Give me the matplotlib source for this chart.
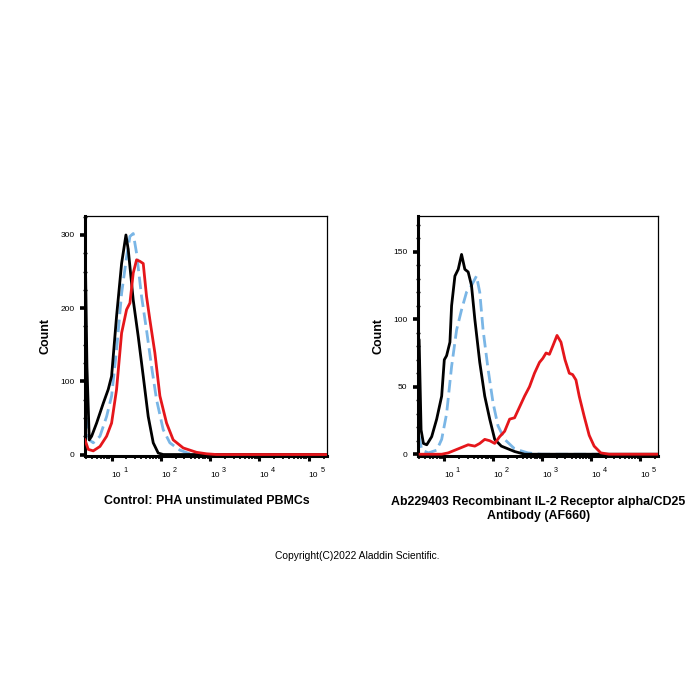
import numpy as np
import matplotlib
matplotlib.use("Agg")
import matplotlib.pyplot as plt
from matplotlib.ticker import FixedLocator, MultipleLocator, NullFormatter

plt.rcParams['font.family'] = ['Liberation Sans', 'DejaVu Sans']

# ---------------- data (log10 fluorescence, counts) ----------------
# Left panel: Control, PHA unstimulated PBMCs
L_black_log = [0.46, 0.50, 0.547, 0.595, 0.696, 0.831, 0.932, 1.0, 1.101, 1.203, 1.291, 1.338,
               1.439, 1.541, 1.642, 1.743, 1.845, 1.946, 2.047, 5.37]
L_black_cnt = [305, 120, 20, 25, 43, 70, 89, 107, 189, 261, 300, 280, 211, 161, 107, 52, 16, 2, 0, 0]

L_blue_log = [0.46, 0.48, 0.547, 0.628, 0.764, 0.899, 1.0, 1.101, 1.203, 1.304, 1.372, 1.439, 1.507,
              1.608, 1.709, 1.811, 1.912, 2.047, 2.182, 2.385, 2.588, 2.858, 5.37]
L_blue_cnt = [52, 50, 20, 16, 25, 52, 80, 143, 220, 270, 298, 302, 275, 216, 170, 120, 75, 34, 16, 6,
              1, 0, 0]

L_red_log = [0.46, 0.527, 0.628, 0.764, 0.899, 1.0, 1.101, 1.203, 1.304, 1.372, 1.439, 1.507, 1.574,
             1.642, 1.709, 1.777, 1.878, 1.980, 2.115, 2.250, 2.453, 2.723, 2.926, 3.128, 5.37]
L_red_cnt = [20, 7, 5, 11, 25, 43, 89, 166, 198, 207, 248, 266, 264, 261, 216, 184, 139, 80, 43, 20,
             9, 3, 1, 0, 0]

# Right panel: Ab229403 IL-2 Receptor alpha/CD25 (AF660)
R_black_log = [0.46, 0.485, 0.525, 0.573, 0.641, 0.742, 0.844, 0.946, 1.0, 1.047, 1.115, 1.149, 1.217,
               1.285, 1.353, 1.420, 1.488, 1.556, 1.624, 1.725, 1.827, 1.929, 2.031, 2.166, 2.302,
               2.437, 2.641, 5.37]
R_black_cnt = [85, 85, 18, 8, 7, 13, 26, 43, 70, 73, 83, 110, 132, 137, 148, 137, 135, 125, 100, 68,
               43, 26, 11, 6, 4, 2, 0, 0]

R_blue_log = [0.46, 0.485, 0.539, 0.675, 0.844, 0.946, 1.047, 1.149, 1.251, 1.353, 1.454, 1.556,
              1.658, 1.725, 1.793, 1.895, 1.997, 2.098, 2.234, 2.437, 2.708, 2.980, 4.2]
R_blue_cnt = [13, 13, 3, 1, 3, 11, 30, 65, 92, 107, 120, 125, 132, 120, 92, 63, 38, 21, 11, 4, 1, 0, 0]

R_red_log = [0.505, 0.946, 1.081, 1.285, 1.488, 1.624, 1.725, 1.827, 1.929, 2.031, 2.132, 2.234,
             2.336, 2.437, 2.539, 2.641, 2.742, 2.844, 2.946, 3.014, 3.081, 3.149, 3.217, 3.305,
             3.386, 3.468, 3.556, 3.624, 3.692, 3.759, 3.861, 3.963, 4.064, 4.200, 4.369, 5.37]
R_red_cnt = [0, 0, 1, 4, 7, 6, 8, 11, 10, 8, 13, 17, 26, 27, 35, 43, 50, 60, 68, 71, 75, 74, 80, 88,
             83, 70, 60, 59, 55, 43, 28, 14, 6, 1, 0, 0]

decades = [1, 2, 3, 4, 5]
left_yticks = [0, 100, 200, 300]
right_yticks = [0, 50, 100, 150]
left_title = "Control: PHA unstimulated PBMCs"
right_title = "Ab229403 Recombinant IL-2 Receptor alpha/CD25\nAntibody (AF660)"
copyright_text = "Copyright(C)2022 Aladdin Scientific."

RED = '#e5161b'
BLUE = '#7ab6e6'

fig = plt.figure(figsize=(7, 7), dpi=100)

def style_axes(ax, yticks, ylim, yminor):
    ax.set_xscale('log')
    ax.set_xlim(10 ** 0.46, 10 ** 5.37)
    ax.set_ylim(*ylim)
    ax.xaxis.set_major_locator(FixedLocator([10.0 ** d for d in decades]))
    minors = []
    for d in range(0, 6):
        for s in range(2, 10):
            minors.append(s * 10.0 ** d)
    ax.xaxis.set_minor_locator(FixedLocator(minors))
    ax.xaxis.set_major_formatter(NullFormatter())
    ax.xaxis.set_minor_formatter(NullFormatter())
    # decade labels "10" with a large superscript exponent
    for d in decades:
        ax.annotate('10', xy=(10.0 ** d, 0), xycoords=('data', 'axes fraction'),
                    xytext=(0, -15.0), textcoords='offset points',
                    ha='left', va='baseline', fontsize=6, annotation_clip=False)
        ax.annotate(str(d), xy=(10.0 ** d, 0), xycoords=('data', 'axes fraction'),
                    xytext=(8.3, -11.5), textcoords='offset points',
                    ha='left', va='baseline', fontsize=5.2, annotation_clip=False)
    ax.set_yticks(yticks)
    ax.yaxis.set_minor_locator(MultipleLocator(yminor))
    ax.tick_params(axis='x', which='major', direction='out', length=3.5, width=2.2)
    ax.tick_params(axis='x', which='minor', direction='out', length=2.2, width=1.2)
    ax.tick_params(axis='y', which='major', direction='out', length=3.5, width=2.6, labelsize=6, pad=4)
    ax.tick_params(axis='y', which='minor', direction='inout', length=2.5, width=1.0)
    for side in ['left', 'bottom']:
        ax.spines[side].set_linewidth(2.2)
    for side in ['top', 'right']:
        ax.spines[side].set_linewidth(0.9)
    ax.set_ylabel('Count', fontsize=9, fontweight='bold', labelpad=6)

lw = 2.0
axL = fig.add_axes([0.1214, 0.3486, 0.3457, 0.3429])
axL.plot(10 ** np.array(L_blue_log), L_blue_cnt, color=BLUE, lw=lw, dashes=(4.5, 2), zorder=2)
axL.plot(10 ** np.array(L_black_log), L_black_cnt, color='black', lw=lw, zorder=3)
axL.plot(10 ** np.array(L_red_log), L_red_cnt, color=RED, lw=lw, zorder=4)
style_axes(axL, left_yticks, (-2, 326), 25)

axR = fig.add_axes([0.597, 0.3486, 0.343, 0.3429])
axR.plot(10 ** np.array(R_blue_log), R_blue_cnt, color=BLUE, lw=lw, dashes=(4.5, 2), zorder=2)
axR.plot(10 ** np.array(R_black_log), R_black_cnt, color='black', lw=lw, zorder=3)
axR.plot(10 ** np.array(R_red_log), R_red_cnt, color=RED, lw=lw, zorder=4)
style_axes(axR, right_yticks, (-1.3, 176.5), 10)

fig.text(0.295, 0.284, left_title, ha='center', va='center', fontsize=8.9, fontweight='bold')
fig.text(0.769, 0.273, right_title, ha='center', va='center', fontsize=8.9, fontweight='bold',
         linespacing=1.25)
fig.text(0.511, 0.206, copyright_text, ha='center', va='center', fontsize=7.4)

fig.savefig('out.png', dpi=100)
